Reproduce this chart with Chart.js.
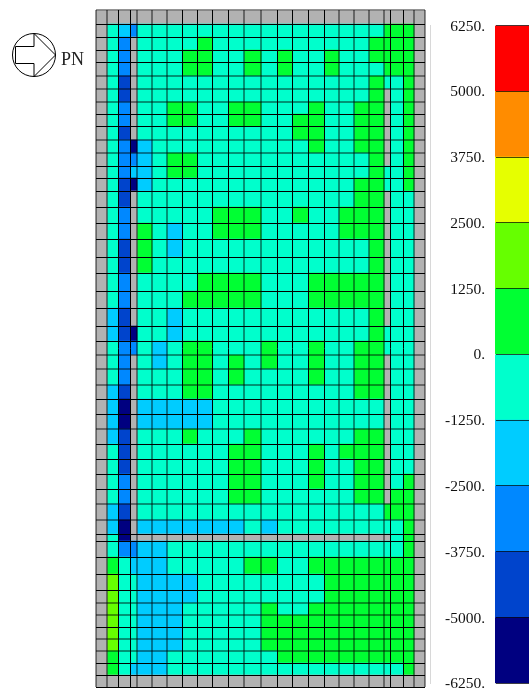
<!DOCTYPE html>
<html>
<head>
<meta charset="utf-8">
<title>PN</title>
<script src="https://cdn.jsdelivr.net/npm/chart.js@4/dist/chart.umd.js"></script>
<style>
html, body { margin: 0; padding: 0; background: #fff; overflow: hidden; }
.panel { position: absolute; top: 0; height: 691px; }
</style>
</head>
<body>
<div class="panel" style="left:0;width:529px"><canvas id="mesh"></canvas></div>
<div class="panel" style="left:430px;width:99px"><canvas id="bar"></canvas></div>
<script>
// colour levels of the legend, bottom to top
const levels = [-6250, -5000, -3750, -2500, -1250, 0, 1250, 2500, 3750, 5000, 6250];
const levelColors = ['#000080', '#0044cc', '#0088ff', '#00ccff', '#00ffcc', '#00ff33', '#66ff00', '#e6ff00', '#ff8c00', '#ff0000'];
const noValueColor = '#b2b2b2';

// mesh spacing, left to right and top to bottom
const colWidths = [11, 11, 12, 7, 15, 15, 15, 15, 15, 16, 16, 17, 16, 15, 16, 16, 15, 15, 15, 15, 6, 13, 11, 11];
const rowHeights = [14, 13, 13, 13, 13, 13, 13, 12, 13, 13, 13, 13, 12, 13, 16, 16, 16, 18, 16, 18, 17, 18, 15, 14, 14, 16, 14, 15, 15, 15, 15, 15, 15, 15, 16, 14, 7, 16, 17, 16, 13, 12, 12, 12, 12, 12, 12, 12];

// mesh lines that look washed out in the picture (index of the edge)
const softColEdges = [0, 1, 4, 5, 6, 11, 12, 17, 18, 19, 20, 23, 24];
const softRowEdges = [0, 5, 6, 7, 10, 11, 24, 25, 26, 29, 34, 35, 41, 42, 44, 45];

// one string per row, one character per column: legend band of the cell, '.' = no value
const cellBands = [
  '.... ........ ........ ....',
  '.432 44444444 44444444 555.',
  '.42. 44445444 44444445 555.',
  '.42. 44455445 45445445 555.',
  '.42. 44455445 45445444 555.',
  '.41. 44444444 44444445 445.',
  '.41. 44444444 44444445 .45.',
  '.42. 44554455 44454455 .45.',
  '.42. 44554455 44554455 .45.',
  '.41. 44444444 44554455 .45.',
  '.420 34444444 44454455 .45.',
  '.422 34554444 44444445 .45.',
  '.423 34554444 44444445 445.',
  '.410 34444444 44444455 445.',
  '.41. 44444444 44444455 .44.',
  '.42. 44444555 44544555 .44.',
  '.42. 54344555 44444555 .44.',
  '.41. 54344444 44444445 .44.',
  '.41. 54444444 44444445 .44.',
  '.42. 44445555 44455555 .44.',
  '.42. 44455555 44455555 .44.',
  '.31. 44344444 44444445 .44.',
  '.310 44344444 44444445 444.',
  '.422 43455444 54454455 444.',
  '.42. 43455454 54454455 .44.',
  '.42. 44455454 44454455 .44.',
  '.31. 44455444 44444455 .44.',
  '.30. 33333444 44444444 .44.',
  '.30. 33333444 44444444 .44.',
  '.31. 44454445 44444455 .44.',
  '.41. 44444455 44454555 .44.',
  '.41. 44444455 44454455 .44.',
  '.42. 44444455 44454455 .45.',
  '.42. 44444455 44444455 .55.',
  '.31. 44444444 44444444 555.',
  '.30. 33333334 34444444 445.',
  '.40. ........ ........ .45.',
  '.422 33444444 44444444 445.',
  '.543 33444445 54455555 555.',
  '.644 33334444 44445555 555.',
  '.644 33334444 44445555 555.',
  '.644 33344444 54455555 555.',
  '.644 33344444 55555555 555.',
  '.644 33344444 55555555 555.',
  '.644 33344444 55555555 555.',
  '.544 33444444 45555555 555.',
  '.543 33444444 44444444 445.',
  '.... ........ ........ ....'
].map(row => row.replace(/ /g, ''));

const cumulative = (sizes) => {
    const edges = [0];
    sizes.forEach(size => edges.push(edges[edges.length - 1] + size));
    return edges;
};

const colEdges = cumulative(colWidths);
const rowEdges = cumulative(rowHeights);

// middle of the band stands in for the cell value
const bandValue = (ch) => ch === '.' ? null : (levels[+ch] + levels[+ch + 1]) / 2;

const colorOfValue = (value) => {
    if (value === null) return noValueColor;
    const band = levels.findIndex((level, i) => value >= level && value < levels[i + 1]);
    return levelColors[band];
};

const meshDatasets = colWidths.map((width, col) => ({
    data: rowHeights.map((height, row) => ({
        x: colEdges[col] + width / 2,
        y: [rowEdges[row], rowEdges[row + 1]],
        value: bandValue(cellBands[row][col])
    })),
    barThickness: width,
    grouped: false,
    backgroundColor: (ctx) => colorOfValue(ctx.raw.value)
}));

const meshGrid = (softEdges) => ({
    color: (ctx) => softEdges.includes(ctx.index) ? 'rgba(0,0,0,0.42)' : '#000',
    lineWidth: (ctx) => softEdges.includes(ctx.index) ? 2 : 1,
    z: 1,
    offset: false,
    drawTicks: false
});

// the direction symbol and its label
const directionMark = {
    id: 'directionMark',
    afterDraw(chart) {
        const ctx = chart.ctx;
        ctx.save();
        ctx.strokeStyle = '#000';
        ctx.lineWidth = 1;
        ctx.beginPath();
        ctx.arc(34, 55, 21.5, 0, Math.PI * 2);
        ctx.stroke();
        ctx.beginPath();
        ctx.moveTo(15.5, 46.5);
        ctx.lineTo(34, 46.5);
        ctx.lineTo(34, 33.5);
        ctx.lineTo(55.5, 55);
        ctx.lineTo(34, 76.5);
        ctx.lineTo(34, 63.5);
        ctx.lineTo(15.5, 63.5);
        ctx.closePath();
        ctx.stroke();
        ctx.fillStyle = '#222';
        ctx.font = '18px "Liberation Serif"';
        ctx.textBaseline = 'alphabetic';
        ctx.fillText('PN', 61, 65);
        ctx.restore();
    }
};

new Chart(document.getElementById('mesh'), {
    type: 'bar',
    data: { datasets: meshDatasets },
    plugins: [directionMark],
    options: {
        responsive: true,
        maintainAspectRatio: false,
        animation: false,
        layout: { padding: { left: 96, top: 10, right: 104, bottom: 4 } },
        plugins: { legend: { display: false }, tooltip: { enabled: false } },
        scales: {
            x: {
                type: 'linear',
                min: 0,
                max: colEdges[colEdges.length - 1],
                offset: false,
                afterBuildTicks: (scale) => { scale.ticks = colEdges.map(value => ({ value })); },
                ticks: { display: false, autoSkip: false },
                grid: meshGrid(softColEdges),
                border: { display: false }
            },
            y: {
                type: 'linear',
                reverse: true,
                min: 0,
                max: rowEdges[rowEdges.length - 1],
                afterBuildTicks: (scale) => { scale.ticks = rowEdges.map(value => ({ value })); },
                ticks: { display: false, autoSkip: false },
                grid: meshGrid(softRowEdges),
                border: { display: false }
            }
        }
    }
});

new Chart(document.getElementById('bar'), {
    type: 'bar',
    data: {
        labels: ['level'],
        datasets: levelColors.map((color, i) => ({
            data: [[levels[i], levels[i + 1]]],
            backgroundColor: color,
            grouped: false,
            barPercentage: 1,
            categoryPercentage: 1
        }))
    },
    options: {
        responsive: true,
        maintainAspectRatio: false,
        animation: false,
        layout: { autoPadding: false, padding: { top: 25.5, bottom: 7.7 } },
        plugins: { legend: { display: false }, tooltip: { enabled: false } },
        scales: {
            x: { display: false },
            y: {
                min: levels[0],
                max: levels[levels.length - 1],
                afterBuildTicks: (scale) => { scale.ticks = levels.map(value => ({ value })); },
                afterFit: (scale) => {
                    // no room kept for the end labels, the bar runs the full height
                    scale.width = 65;
                    scale.paddingTop = 0;
                    scale.paddingBottom = 0;
                },
                ticks: {
                    color: '#111',
                    padding: 10,
                    labelOffset: 1,
                    font: { family: '"Liberation Serif"', size: 15.5 },
                    callback: (value) => value + '.'
                },
                grid: { color: 'rgba(0,0,0,0.7)', lineWidth: 1, z: 1, drawTicks: false },
                border: { color: noValueColor }
            }
        }
    }
});
</script>
</body>
</html>
